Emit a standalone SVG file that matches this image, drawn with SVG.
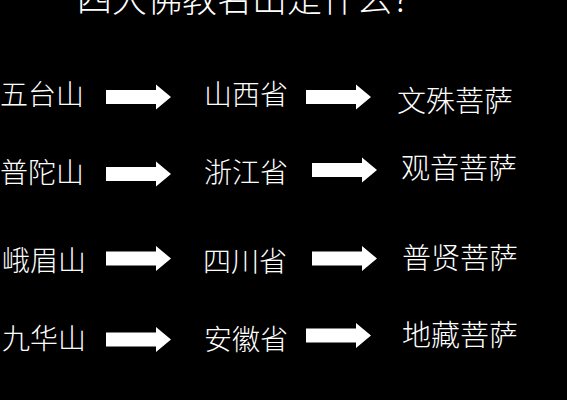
<svg xmlns="http://www.w3.org/2000/svg" xmlns:xlink="http://www.w3.org/1999/xlink" width="567" height="400" viewBox="0 0 567 400">
<style>
.t{fill:#fff;font-family:"Noto Sans CJK SC","Noto Sans CJK JP",sans-serif;font-weight:300}
.a{fill:#fff}
</style>
<defs>
<path id="arr" d="M0,-7 H50 V-12.5 L65,0 L50,12.5 V7 H0 Z"/>
</defs>
<rect width="567" height="400" fill="#000"/>
<g id="title"><text class="t" x="77" y="12" font-size="35">四大佛教名山是什么？</text></g>
<g id="connectors">
<use class="a" xlink:href="#arr" x="106" y="97"/>
<use class="a" xlink:href="#arr" x="306" y="97"/>
<use class="a" xlink:href="#arr" x="106" y="174"/>
<use class="a" xlink:href="#arr" x="312" y="170"/>
<use class="a" xlink:href="#arr" x="106" y="258.5"/>
<use class="a" xlink:href="#arr" x="312" y="258.5"/>
<use class="a" xlink:href="#arr" x="106" y="339.5"/>
<use class="a" xlink:href="#arr" x="306" y="335.5"/>
</g>
<g id="wutaishan"><text class="t" x="0" y="105" font-size="28">五台山</text></g>
<g id="shanxi"><text class="t" x="204" y="105" font-size="28">山西省</text></g>
<g id="wenshu"><text class="t" x="397" y="112" font-size="29">文殊菩萨</text></g>
<g id="putuoshan"><text class="t" x="0" y="183" font-size="28">普陀山</text></g>
<g id="zhejiang"><text class="t" x="204" y="183" font-size="28">浙江省</text></g>
<g id="guanyin"><text class="t" x="401" y="179" font-size="29">观音菩萨</text></g>
<g id="emeishan"><text class="t" x="2" y="271" font-size="28">峨眉山</text></g>
<g id="sichuan"><text class="t" x="203" y="272" font-size="28">四川省</text></g>
<g id="puxian"><text class="t" x="402" y="269" font-size="29">普贤菩萨</text></g>
<g id="jiuhuashan"><text class="t" x="2" y="349" font-size="28">九华山</text></g>
<g id="anhui"><text class="t" x="204" y="350" font-size="28">安徽省</text></g>
<g id="dizang"><text class="t" x="402" y="346" font-size="29">地藏菩萨</text></g>
</svg>
